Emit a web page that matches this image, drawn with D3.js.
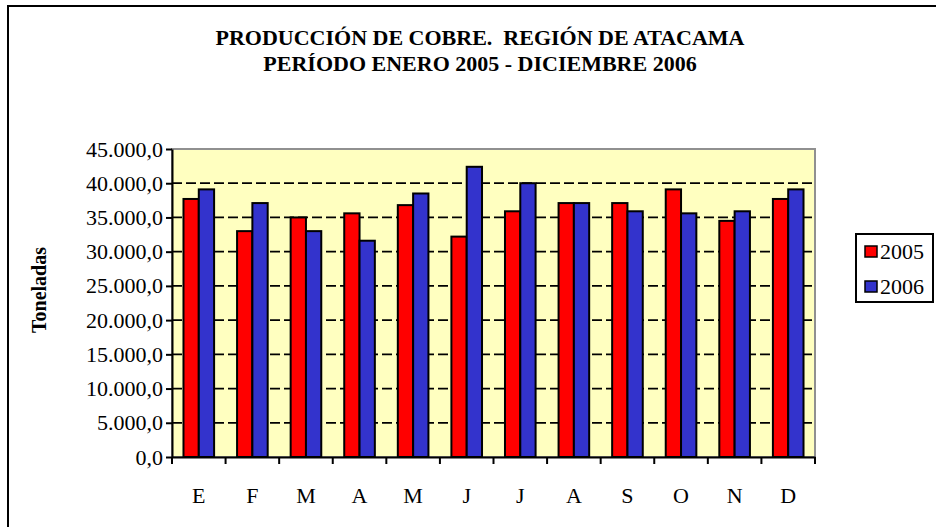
<!DOCTYPE html>
<meta charset="utf-8">
<style>
body { margin: 0; background: #fff; }
text { font-family: "Liberation Serif", "Times New Roman", serif; fill: #000; }
.title { font-weight: bold; font-size: 22px; }
.ytitle { font-weight: bold; font-size: 20px; }
.axis text { font-size: 22px; font-family: "Liberation Serif", serif; }
.axis path, .axis line { stroke: #000; stroke-width: 2px; }
.grid line { stroke: #000; stroke-width: 1.7px; stroke-dasharray: 10,4; }
.bar { stroke: #000; stroke-width: 2px; }
</style>
<svg width="936" height="527"></svg>
<script src="https://d3js.org/d3.v7.min.js"></script>
<script>

var months = ["E", "F", "M", "A", "M", "J", "J", "A", "S", "O", "N", "D"];
var series = ["2005", "2006"];
var colors = ["#ff0000", "#3333cc"];
var values2005 = [37700, 33000, 35000, 35600, 36800, 32200, 35900, 37100, 37100, 39100, 34500, 37700];
var values2006 = [39100, 37100, 33000, 31600, 38500, 42400, 40000, 37100, 35900, 35600, 35900, 39100];
var yTicks = [0, 5000, 10000, 15000, 20000, 25000, 30000, 35000, 40000, 45000];

var svg = d3.select("svg");

var plotLeft = 172, plotRight = 815, plotTop = 149, plotBottom = 457;

var es = d3.formatLocale({decimal: ",", thousands: ".", grouping: [3], currency: ["", ""]});
var fmt = es.format(",.1f");

// outer frame
svg.append("rect")
    .attr("x", 8).attr("y", 6)
    .attr("width", 940).attr("height", 540)
    .attr("fill", "none").attr("stroke", "#000").attr("stroke-width", 2);

svg.append("text").attr("class", "title")
    .attr("x", 480).attr("y", 45).attr("text-anchor", "middle")
    .style("white-space", "pre")
    .text("PRODUCCIÓN DE COBRE.  REGIÓN DE ATACAMA");
svg.append("text").attr("class", "title")
    .attr("x", 480).attr("y", 71).attr("text-anchor", "middle")
    .text("PERÍODO ENERO 2005 - DICIEMBRE 2006");

var x0 = d3.scaleBand().domain(d3.range(months.length)).range([plotLeft, plotRight]);
var x1 = d3.scaleBand().domain(series).range([0, x0.bandwidth()]).paddingOuter(0.75);
var y = d3.scaleLinear().domain([0, 45000]).range([plotBottom, plotTop]);

// plot background
svg.append("rect")
    .attr("x", plotLeft).attr("y", plotTop)
    .attr("width", plotRight - plotLeft).attr("height", plotBottom - plotTop)
    .attr("fill", "#ffffc0").attr("stroke", "#909090").attr("stroke-width", 2);

svg.append("g").attr("class", "grid")
  .selectAll("line")
  .data(yTicks.filter(function(d) { return d > 0 && d < 45000; }))
  .enter().append("line")
    .attr("x1", plotLeft).attr("x2", plotRight)
    .attr("y1", function(d) { return y(d); })
    .attr("y2", function(d) { return y(d); });

var data = [values2005, values2006];

svg.append("g").selectAll("g")
  .data(d3.range(months.length))
  .enter().append("g")
    .attr("transform", function(i) { return "translate(" + x0(i) + ",0)"; })
  .selectAll("rect")
  .data(function(i) { return series.map(function(s, k) { return {s: s, k: k, v: data[k][i]}; }); })
  .enter().append("rect")
    .attr("class", "bar")
    .attr("x", function(d) { return x1(d.s); })
    .attr("width", x1.bandwidth())
    .attr("y", function(d) { return y(d.v); })
    .attr("height", function(d) { return plotBottom - y(d.v); })
    .attr("fill", function(d) { return colors[d.k]; });

// y axis
svg.append("g").attr("class", "axis")
    .attr("transform", "translate(" + plotLeft + ",0)")
    .call(d3.axisLeft(y).tickValues(yTicks).tickFormat(fmt).tickSize(6).tickSizeOuter(0).tickPadding(3));

// x axis, ticks sit between the months
svg.append("g").attr("class", "axis")
    .attr("transform", "translate(0," + plotBottom + ")")
    .call(d3.axisBottom(x0).tickSize(0).tickSizeOuter(0).tickFormat(function(i) { return months[i]; }).tickPadding(30));
svg.append("g").selectAll("line")
  .data(d3.range(months.length + 1))
  .enter().append("line")
    .attr("x1", function(i) { return plotLeft + i * x0.step(); })
    .attr("x2", function(i) { return plotLeft + i * x0.step(); })
    .attr("y1", plotBottom).attr("y2", plotBottom + 7)
    .attr("stroke", "#000").attr("stroke-width", 2);

svg.append("text").attr("class", "ytitle")
    .attr("transform", "translate(46,290) rotate(-90)")
    .attr("text-anchor", "middle")
    .text("Toneladas");

// legend
var lg = svg.append("g");
lg.append("rect")
    .attr("x", 856).attr("y", 234).attr("width", 77).attr("height", 68)
    .attr("fill", "#fff").attr("stroke", "#000").attr("stroke-width", 2);
series.forEach(function(s, k) {
  lg.append("rect")
      .attr("x", 865).attr("y", 246 + k * 35).attr("width", 12).attr("height", 11)
      .attr("fill", colors[k]).attr("stroke", "#000").attr("stroke-width", 1.5);
  lg.append("text")
      .attr("x", 880).attr("y", 259 + k * 35)
      .style("font-size", "22px")
      .text(s);
});

</script>
